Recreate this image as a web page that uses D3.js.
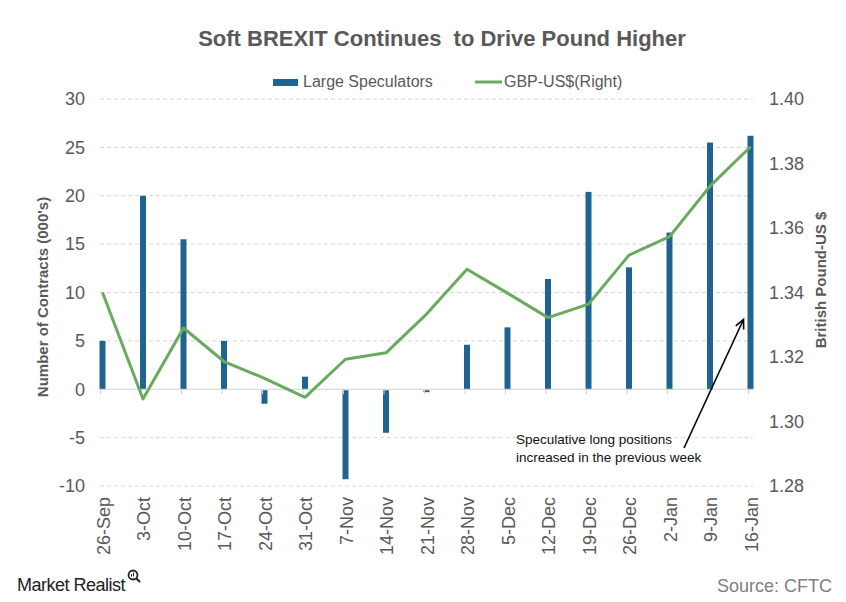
<!DOCTYPE html>
<html>
<head>
<meta charset="utf-8">
<script src="https://cdn.jsdelivr.net/npm/d3@7"></script>
<style>
  html, body { margin: 0; padding: 0; background: #fff; }
  svg { display: block; font-family: "Liberation Sans", Arial, sans-serif; }
</style>
</head>
<body>
<svg id="chart" width="846" height="602"></svg>
<script>
const categories = ["26-Sep","3-Oct","10-Oct","17-Oct","24-Oct","31-Oct","7-Nov","14-Nov","21-Nov","28-Nov","5-Dec","12-Dec","19-Dec","26-Dec","2-Jan","9-Jan","16-Jan"];
const speculators = [5.0, 20.0, 15.5, 5.0, -1.5, 1.3, -9.3, -4.5, -0.3, 4.6, 6.4, 11.4, 20.4, 12.6, 16.2, 25.5, 26.2];
const gbpusd = [1.340, 1.307, 1.329, 1.3186, 1.3134, 1.3075, 1.3193, 1.3213, 1.3333, 1.3472, 1.3398, 1.3322, 1.3364, 1.3516, 1.3573, 1.373, 1.3852];
const leftTicks = [-10, -5, 0, 5, 10, 15, 20, 25, 30];
const rightTicks = [1.28, 1.30, 1.32, 1.34, 1.36, 1.38, 1.40];

const title = "Soft BREXIT Continues  to Drive Pound Higher";
const barName = "Large Speculators";
const lineName = "GBP-US$(Right)";
const leftTitle = "Number of Contracts (000's)";
const rightTitle = "British Pound-US $";
const note = ["Speculative long positions", "increased in the previous week"];
const source = "Source: CFTC";

const svg = d3.select("#chart");
const textCol = "#595959";
const barCol = "#1f6391";
const lineCol = "#68ab5e";

const plotTop = 99, plotBottom = 486, plotLeft = 100, plotRight = 753;

const x = d3.scalePoint().domain(categories).range([102.5, 750.5]);
const yL = d3.scaleLinear().domain([-10, 30]).range([plotBottom, plotTop]);
const yR = d3.scaleLinear().domain([1.28, 1.40]).range([plotBottom, plotTop]);

// gridlines
svg.append("g").selectAll("line").data(leftTicks.filter(d => d !== 0)).join("line")
  .attr("x1", plotLeft).attr("x2", plotRight)
  .attr("y1", d => yL(d)).attr("y2", d => yL(d))
  .attr("stroke", "#d6d6d6").attr("stroke-width", 1).attr("stroke-dasharray", "4,3");

// left axis labels
svg.append("g").selectAll("text").data(leftTicks).join("text")
  .attr("x", 85).attr("y", d => yL(d)).attr("dy", "0.35em")
  .attr("text-anchor", "end").attr("font-size", 18).attr("fill", textCol)
  .text(d => d);

// right axis labels
svg.append("g").selectAll("text").data(rightTicks).join("text")
  .attr("x", 769).attr("y", d => yR(d)).attr("dy", "0.35em")
  .attr("text-anchor", "start").attr("font-size", 18).attr("fill", textCol)
  .text(d => d3.format(".2f")(d));

// bars
const bw = 6;
svg.append("g").selectAll("rect").data(speculators).join("rect")
  .attr("x", (d, i) => x(categories[i]) - bw / 2)
  .attr("width", bw)
  .attr("y", d => d >= 0 ? yL(d) : yL(0) + 1)
  .attr("height", d => Math.max(1, Math.abs(yL(d) - yL(0)) - (d < 0 ? 1 : 0)))
  .attr("fill", barCol);

// zero line and ticks
svg.append("line").attr("x1", plotLeft).attr("x2", plotRight)
  .attr("y1", yL(0)).attr("y2", yL(0)).attr("stroke", "#d0d0d0").attr("stroke-width", 1);
svg.append("g").selectAll("line").data(categories).join("line")
  .attr("x1", d => x(d) - 2).attr("x2", d => x(d) - 2)
  .attr("y1", yL(0)).attr("y2", yL(0) + 5)
  .attr("stroke", "#d0d0d0").attr("stroke-width", 1);

// line
const line = d3.line().x((d, i) => x(categories[i])).y(d => yR(d));
svg.append("path").datum(gbpusd).attr("d", line)
  .attr("fill", "none").attr("stroke", lineCol).attr("stroke-width", 3)
  .attr("stroke-linejoin", "round");

// x labels
svg.append("g").selectAll("text").data(categories).join("text")
  .attr("transform", d => `translate(${x(d) + 1},497) rotate(-90)`)
  .attr("text-anchor", "end").attr("dy", "0.35em")
  .attr("font-size", 18).attr("fill", textCol)
  .text(d => d);

// title
svg.append("text").attr("x", 442).attr("y", 46).attr("text-anchor", "middle")
  .attr("font-size", 22).attr("font-weight", "bold").attr("fill", textCol)
  .style("white-space", "pre").text(title);

// legend
svg.append("rect").attr("x", 273).attr("y", 79).attr("width", 25).attr("height", 7).attr("fill", barCol);
svg.append("text").attr("x", 303).attr("y", 87).attr("font-size", 16).attr("fill", textCol).text(barName);
svg.append("line").attr("x1", 475).attr("x2", 502).attr("y1", 82).attr("y2", 82)
  .attr("stroke", lineCol).attr("stroke-width", 3);
svg.append("text").attr("x", 504).attr("y", 87).attr("font-size", 16).attr("fill", textCol).text(lineName);

// axis titles
svg.append("text").attr("transform", "translate(43,297) rotate(-90)")
  .attr("text-anchor", "middle").attr("dy", "0.35em")
  .attr("font-size", 15).attr("font-weight", "bold").attr("fill", textCol).text(leftTitle);
svg.append("text").attr("transform", "translate(821,280) rotate(-90)")
  .attr("text-anchor", "middle").attr("dy", "0.35em")
  .attr("font-size", 15).attr("font-weight", "bold").attr("fill", textCol).text(rightTitle);

// annotation
svg.append("text").attr("x", 516).attr("y", 444).attr("font-size", 13.5).attr("fill", "#111")
  .text(note[0]);
svg.append("text").attr("x", 516).attr("y", 462).attr("font-size", 13.5).attr("fill", "#111")
  .text(note[1]);
const ax1 = 684, ay1 = 448, ax2 = 743.5, ay2 = 319.5;
svg.append("line").attr("x1", ax1).attr("y1", ay1).attr("x2", ax2).attr("y2", ay2)
  .attr("stroke", "#000").attr("stroke-width", 1.6);
const ang = Math.atan2(ay2 - ay1, ax2 - ax1);
const hl = 10, spread = 0.45;
const hp = [
  [ax2 - hl * Math.cos(ang - spread), ay2 - hl * Math.sin(ang - spread)],
  [ax2, ay2],
  [ax2 - hl * Math.cos(ang + spread), ay2 - hl * Math.sin(ang + spread)]
];
svg.append("path").attr("d", d3.line()(hp)).attr("fill", "none")
  .attr("stroke", "#000").attr("stroke-width", 1.6);

// source
svg.append("text").attr("x", 832).attr("y", 592).attr("text-anchor", "end")
  .attr("font-size", 18).attr("fill", "#7f7f7f").text(source);

// logo
svg.append("text").attr("x", 17).attr("y", 591).attr("font-size", 18)
  .attr("fill", "#222").attr("letter-spacing", "-0.5").text("Market Realist");
const lg = svg.append("g").attr("transform", "translate(133,575)");
lg.append("circle").attr("r", 4.5).attr("fill", "none").attr("stroke", "#222").attr("stroke-width", 1.8);
lg.append("line").attr("x1", 3.2).attr("y1", 3.2).attr("x2", 7).attr("y2", 7).attr("stroke", "#222").attr("stroke-width", 2);
lg.append("rect").attr("x", -2).attr("y", -1).attr("width", 1).attr("height", 2.5).attr("fill", "#222");
lg.append("rect").attr("x", 0).attr("y", -2.5).attr("width", 1).attr("height", 4).attr("fill", "#222");
</script>
</body>
</html>
